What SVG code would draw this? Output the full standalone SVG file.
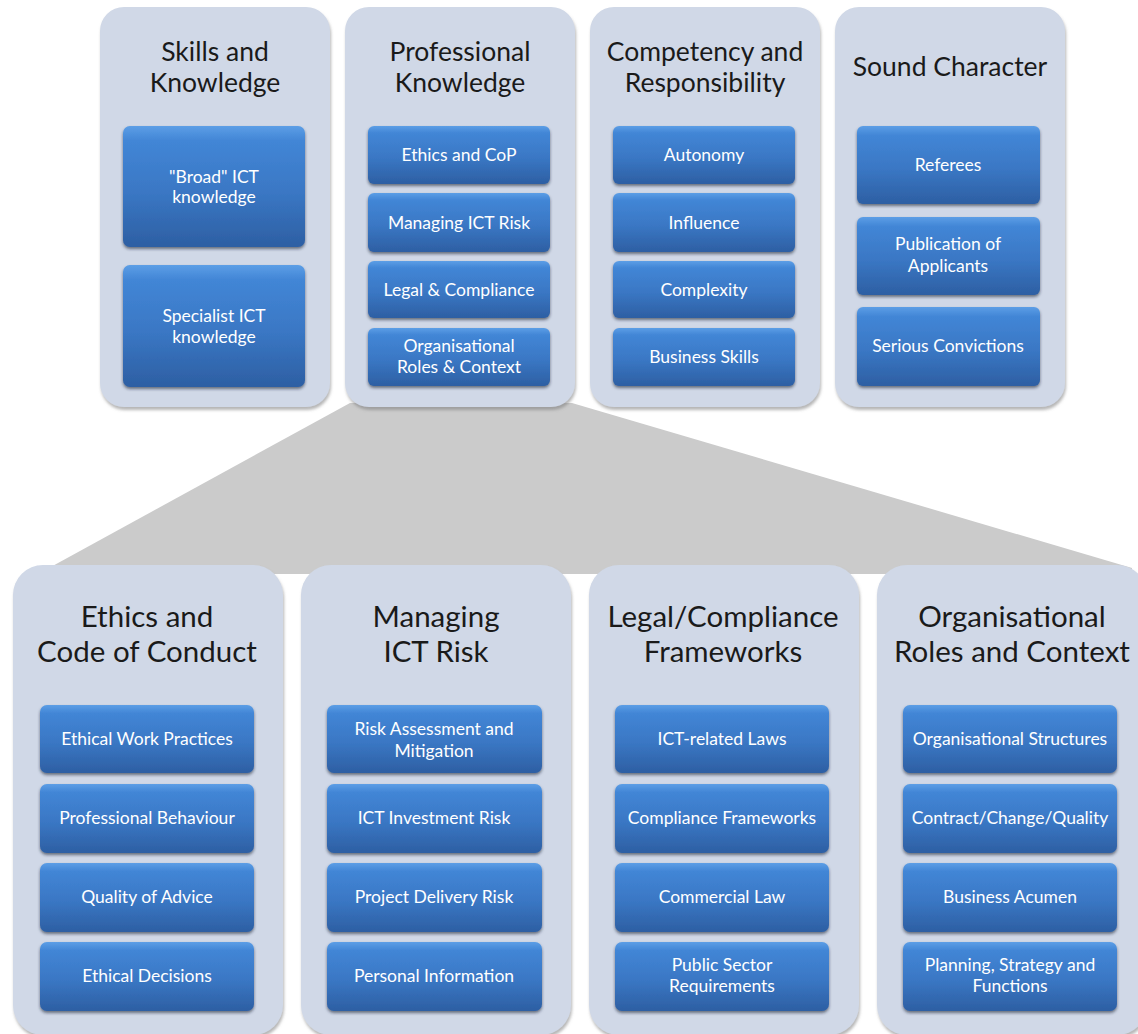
<svg xmlns="http://www.w3.org/2000/svg" width="1138" height="1034" viewBox="0 0 1138 1034">
<style>
.panel{fill:#D0D8E7;filter:url(#pshadow)}
.box{fill:url(#boxgrad);filter:url(#bshadow)}
.t1{font-family:Lato,"Liberation Sans",sans-serif;font-size:26.5px;fill:#1a1a1a;text-anchor:middle}
.t2{font-family:Lato,"Liberation Sans",sans-serif;font-size:29.5px;fill:#1a1a1a;text-anchor:middle}
.bt{font-family:Lato,"Liberation Sans",sans-serif;font-size:17.5px;fill:#ffffff;text-anchor:middle}
</style>
<defs>
<linearGradient id="boxgrad" x1="0" y1="0" x2="0" y2="1">
<stop offset="0" stop-color="#5C9EE6"/>
<stop offset="0.12" stop-color="#4286D6"/>
<stop offset="0.55" stop-color="#3A77C4"/>
<stop offset="1" stop-color="#2D5FA3"/>
</linearGradient>
<filter id="pshadow" x="-10%" y="-10%" width="130%" height="130%">
<feDropShadow dx="1" dy="3" stdDeviation="1.5" flood-color="#7a7a7a" flood-opacity="0.55"/>
</filter>
<filter id="bshadow" x="-10%" y="-10%" width="130%" height="140%">
<feDropShadow dx="0" dy="2" stdDeviation="1.5" flood-color="#202838" flood-opacity="0.6"/>
</filter>
</defs>
<rect width="1138" height="1034" fill="#ffffff"/>

<g id="connectors">
<polygon points="350,403 572,403 1132,568 1132,574 38,574" fill="#CBCBCB"/>
</g>

<g id="skills-knowledge">
<rect class="panel" x="100" y="7" width="230" height="400" rx="24"/>
<text class="t1" x="215" y="61">Skills and</text>
<text class="t1" x="215" y="92">Knowledge</text>
<rect class="box" x="123" y="126" width="182" height="121" rx="7"/>
<text class="bt" x="214" y="183">"Broad" ICT</text>
<text class="bt" x="214" y="203">knowledge</text>
<rect class="box" x="123" y="265" width="182" height="122" rx="7"/>
<text class="bt" x="214" y="322">Specialist ICT</text>
<text class="bt" x="214" y="343">knowledge</text>
</g>

<g id="professional-knowledge">
<rect class="panel" x="345" y="7" width="230" height="400" rx="24"/>
<text class="t1" x="460" y="61">Professional</text>
<text class="t1" x="460" y="92">Knowledge</text>
<rect class="box" x="368" y="126" width="182" height="58" rx="6"/>
<text class="bt" x="459" y="161">Ethics and CoP</text>
<rect class="box" x="368" y="193" width="182" height="59" rx="6"/>
<text class="bt" x="459" y="229">Managing ICT Risk</text>
<rect class="box" x="368" y="261" width="182" height="57" rx="6"/>
<text class="bt" x="459" y="296">Legal &amp; Compliance</text>
<rect class="box" x="368" y="328" width="182" height="58" rx="6"/>
<text class="bt" x="459" y="352">Organisational</text>
<text class="bt" x="459" y="373">Roles &amp; Context</text>
</g>

<g id="competency-responsibility">
<rect class="panel" x="590" y="7" width="230" height="400" rx="24"/>
<text class="t1" x="705" y="61">Competency and</text>
<text class="t1" x="705" y="92">Responsibility</text>
<rect class="box" x="613" y="126" width="182" height="58" rx="6"/>
<text class="bt" x="704" y="161">Autonomy</text>
<rect class="box" x="613" y="193" width="182" height="59" rx="6"/>
<text class="bt" x="704" y="229">Influence</text>
<rect class="box" x="613" y="261" width="182" height="57" rx="6"/>
<text class="bt" x="704" y="296">Complexity</text>
<rect class="box" x="613" y="328" width="182" height="58" rx="6"/>
<text class="bt" x="704" y="363">Business Skills</text>
</g>

<g id="sound-character">
<rect class="panel" x="835" y="7" width="230" height="400" rx="24"/>
<text class="t1" x="950" y="76">Sound Character</text>
<rect class="box" x="857" y="126" width="183" height="78" rx="6"/>
<text class="bt" x="948" y="171">Referees</text>
<rect class="box" x="857" y="217" width="183" height="78" rx="6"/>
<text class="bt" x="948" y="250">Publication of</text>
<text class="bt" x="948" y="272">Applicants</text>
<rect class="box" x="857" y="307" width="183" height="79" rx="6"/>
<text class="bt" x="948" y="352">Serious Convictions</text>
</g>

<g id="ethics-code-of-conduct">
<rect class="panel" x="13" y="565" width="270" height="470" rx="30"/>
<text class="t2" x="147" y="627">Ethics and</text>
<text class="t2" x="147" y="662">Code of Conduct</text>
<rect class="box" x="40" y="705" width="214" height="68" rx="7"/>
<text class="bt" x="147" y="745">Ethical Work Practices</text>
<rect class="box" x="40" y="784" width="214" height="69" rx="7"/>
<text class="bt" x="147" y="824">Professional Behaviour</text>
<rect class="box" x="40" y="863" width="214" height="69" rx="7"/>
<text class="bt" x="147" y="903">Quality of Advice</text>
<rect class="box" x="40" y="942" width="214" height="69" rx="7"/>
<text class="bt" x="147" y="982">Ethical Decisions</text>
</g>

<g id="managing-ict-risk">
<rect class="panel" x="301" y="565" width="270" height="470" rx="30"/>
<text class="t2" x="436" y="627">Managing</text>
<text class="t2" x="436" y="662">ICT Risk</text>
<rect class="box" x="327" y="705" width="215" height="68" rx="7"/>
<text class="bt" x="434" y="735">Risk Assessment and</text>
<text class="bt" x="434" y="757">Mitigation</text>
<rect class="box" x="327" y="784" width="215" height="69" rx="7"/>
<text class="bt" x="434" y="824">ICT Investment Risk</text>
<rect class="box" x="327" y="863" width="215" height="69" rx="7"/>
<text class="bt" x="434" y="903">Project Delivery  Risk</text>
<rect class="box" x="327" y="942" width="215" height="69" rx="7"/>
<text class="bt" x="434" y="982">Personal Information</text>
</g>

<g id="legal-compliance-frameworks">
<rect class="panel" x="589" y="565" width="270" height="470" rx="30"/>
<text class="t2" x="723" y="627">Legal/Compliance</text>
<text class="t2" x="723" y="662">Frameworks</text>
<rect class="box" x="615" y="705" width="214" height="68" rx="7"/>
<text class="bt" x="722" y="745">ICT-related Laws</text>
<rect class="box" x="615" y="784" width="214" height="69" rx="7"/>
<text class="bt" x="722" y="824">Compliance Frameworks</text>
<rect class="box" x="615" y="863" width="214" height="69" rx="7"/>
<text class="bt" x="722" y="903">Commercial Law</text>
<rect class="box" x="615" y="942" width="214" height="69" rx="7"/>
<text class="bt" x="722" y="971">Public Sector</text>
<text class="bt" x="722" y="992">Requirements</text>
</g>

<g id="organisational-roles-context">
<rect class="panel" x="877" y="565" width="270" height="470" rx="30"/>
<text class="t2" x="1012" y="627">Organisational</text>
<text class="t2" x="1012" y="662">Roles and Context</text>
<rect class="box" x="903" y="705" width="214" height="68" rx="7"/>
<text class="bt" x="1010" y="745">Organisational Structures</text>
<rect class="box" x="903" y="784" width="214" height="69" rx="7"/>
<text class="bt" x="1010" y="824">Contract/Change/Quality</text>
<rect class="box" x="903" y="863" width="214" height="69" rx="7"/>
<text class="bt" x="1010" y="903">Business Acumen</text>
<rect class="box" x="903" y="942" width="214" height="69" rx="7"/>
<text class="bt" x="1010" y="971">Planning, Strategy and</text>
<text class="bt" x="1010" y="992">Functions</text>
</g>
</svg>
